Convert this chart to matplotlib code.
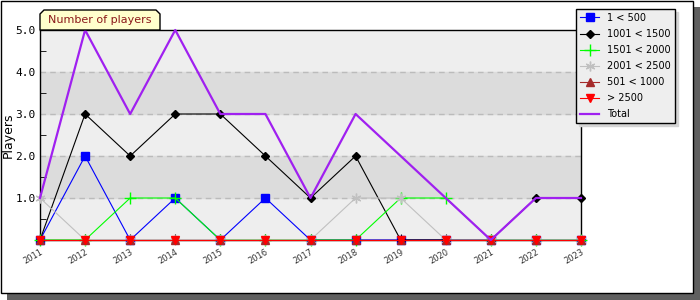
import numpy as np
import matplotlib.pyplot as plt
from matplotlib.patches import Rectangle, Polygon

# Data
years = list(range(2011, 2024))
s_1_500 = [0, 2, 0, 1, 0, 1, 0, 0, 0, 0, 0, 0, 0]
s_1001_1500 = [0, 3, 2, 3, 3, 2, 1, 2, 0, 0, 0, 1, 1]
s_1501_2000 = [0, 0, 1, 1, 0, 0, 0, 0, 1, 1, 0, 0, 0]
s_2001_2500 = [1, 0, 0, 0, 0, 0, 0, 1, 1, 0, 0, 0, 0]
s_501_1000 = [0] * 13
s_2500_plus = [0] * 13
total = [1, 5, 3, 5, 3, 3, 1, 3, 2, 1, 0, 1, 1]

series = [
    ("1 < 500", s_1_500, "#0000FF", "s", 5.5),
    ("1001 < 1500", s_1001_1500, "#000000", "D", 4),
    ("1501 < 2000", s_1501_2000, "#00FF00", "+", 8),
    ("2001 < 2500", s_2001_2500, "#C0C0C0", (6, 2, 0), 7),
    ("501 < 1000", s_501_1000, "#A52A2A", "^", 6),
    ("> 2500", s_2500_plus, "#FF0000", "v", 6),
]

W, H = 700, 300


def px(x, y):
    return (x / W, 1 - y / H)


fig = plt.figure(figsize=(7, 3), dpi=100)
fig.patch.set_facecolor("white")

# outer frame with shadow
fig.patches.append(Rectangle(px(7, 300), 693 / W, 293 / H, transform=fig.transFigure,
                             facecolor="#606060", edgecolor="none", zorder=0))
fig.patches.append(Rectangle(px(0.5, 293), 692 / W, 292.5 / H, transform=fig.transFigure,
                             facecolor="white", edgecolor="black", lw=1, zorder=0.5))

l, b = px(40, 240)
r, t = px(581, 30)
ax = fig.add_axes([l, b, r - l, t - b])
ax.set_zorder(1)
ax.set_facecolor("#EEEEEE")

# alternating bands
for lo in (1, 3):
    ax.axhspan(lo, lo + 1, color="#DCDCDC", zorder=0)
for yv in (1, 2, 3, 4):
    ax.axhline(yv, color="#BBBBBB", lw=1, ls=(0, (4, 3)), zorder=0.5)

for label, vals, col, mk, ms in series:
    ax.plot(years, vals, color=col, lw=0.8, marker=mk, ms=ms, mew=1,
            label=label, clip_on=False, zorder=3)
ax.plot(years, total, color="#A020F0", lw=1.6, label="Total", clip_on=False, zorder=4)

ax.set_xlim(2011, 2023)
ax.set_ylim(0, 5)
ax.set_xticks(years)
ax.set_xticklabels([str(y) for y in years], rotation=30, ha="right", fontsize=6,
                   color="#333333", rotation_mode="anchor")
ax.set_yticks([1, 2, 3, 4, 5])
ax.set_yticklabels(["1.0", "2.0", "3.0", "4.0", "5.0"], fontsize=8,
                   family="DejaVu Sans Mono")
ax.set_yticks(np.arange(0.5, 5, 1), minor=True)
ax.tick_params(axis="both", which="both", direction="in", length=4, color="black")
ax.tick_params(axis="y", which="major", length=0, pad=3)
ax.tick_params(axis="x", pad=5)
for sp in ax.spines.values():
    sp.set_color("black")
    sp.set_linewidth(1)
ax.set_ylabel("Players", fontsize=9)
ax.yaxis.set_label_coords(-0.047, 0.5)

# title tab
tab = Polygon([px(40, 30), px(40, 14), px(44, 10), px(156, 10), px(160, 14), px(160, 30)],
              closed=True, transform=fig.transFigure, facecolor="#FFFFCC",
              edgecolor="black", lw=1, zorder=2)
fig.patches.append(tab)
fig.text(*px(100, 20), "Number of players", ha="center", va="center", fontsize=8,
         color="#8B1A1A", zorder=3)

# legend
handles, labels = ax.get_legend_handles_labels()
leg = fig.legend(handles, labels, loc="upper left", bbox_to_anchor=px(576, 9),
                 fontsize=7, frameon=True, fancybox=False,
                 shadow={"color": "#D4D4D4", "alpha": 1},
                 facecolor="#EEEEEE", edgecolor="black", framealpha=1,
                 handlelength=2.0, labelspacing=0.62, borderpad=0.4, handletextpad=0.8,
                 borderaxespad=0)
leg.get_frame().set_linewidth(1)
leg.set_zorder(5)

fig.savefig("out.png", dpi=100)
